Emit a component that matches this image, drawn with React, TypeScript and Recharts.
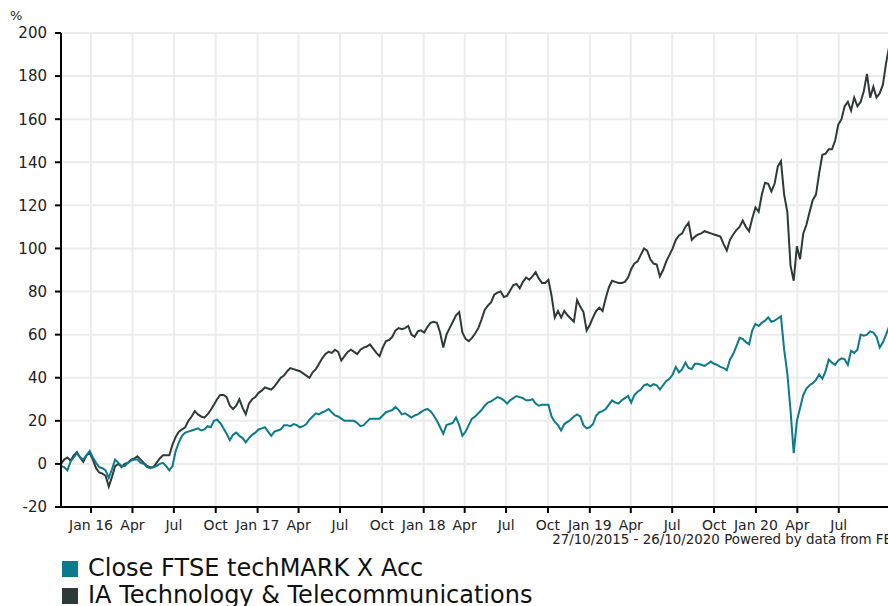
import React from 'react';
import { LineChart, Line, XAxis, YAxis, CartesianGrid } from 'recharts';

const FONT = '"DejaVu Sans", Verdana, sans-serif';
const TEAL = '#0b7a8a';
const DARK = '#2d3a37';

// weekly points starting 27/10/2015
const START = Date.UTC(2015, 9, 27);
const END = Date.UTC(2020, 9, 26);
const WEEK_MS = 7 * 86400000;

const SERIES_NAMES = ['Close FTSE techMARK X Acc', 'IA Technology & Telecommunications'];

const IA_TECH = [
    0, 2, 3, 1.5, 4, 5.5, 3, 1, 4, 5,
    2, -2, -4, -4.5, -5.5, -10.5, -6, -1, 0, -1.5,
    0, 0.5, 2, 2.5, 3.5, 2, 0.5, -1, -1.5, -1.5,
    0.5, 2.5, 4, 4, 4, 9, 12.5, 15, 16, 17,
    20, 22, 24.5, 23, 22, 21.5, 23, 25, 27.5, 30,
    32, 32, 31, 27, 25.5, 27, 30, 26, 23, 28,
    30, 31, 33, 34, 35.5, 35, 34.5, 36, 38, 40,
    41, 43, 44.5, 44, 43.5, 43, 42, 41, 40, 42.5,
    44, 46.5, 49, 51, 52, 51.5, 53, 52, 48, 50,
    52, 53, 52, 51, 53, 54, 54.5, 55.5, 53.5, 51.5,
    50, 54, 57, 57.5, 59, 62, 63, 62.5, 63, 64,
    60, 59, 61.5, 62, 61, 63.5, 65.5, 66, 65.5, 61,
    54, 60, 63, 66, 69, 70.5, 61, 58, 57, 58.5,
    60.5, 63, 67, 71.5, 73.5, 75, 78.5, 79.5, 80, 77.5,
    78, 80.5, 83, 83.5, 81.5, 84.5, 86.5, 85.5, 87, 89,
    86, 84, 84, 85.5, 78, 68, 71, 68, 71, 69,
    67.5, 66, 76, 73, 70.5, 62, 64.5, 68, 71, 72.5,
    71, 77, 82, 85, 84.5, 84, 84, 84.5, 86.5, 90.5,
    93, 94, 97, 100, 99, 95, 93, 92.5, 87, 90,
    94, 97, 100, 104, 106, 107, 110, 112, 104, 105.5,
    106.5, 107, 108, 107.5, 107, 106.5, 106, 105.5, 102, 99,
    104, 106.5, 108.5, 110, 113, 110, 108, 114, 119, 117,
    125, 130.5, 130, 126.5, 130, 138, 140.5, 125, 117, 92,
    85, 101, 95, 107, 111, 117, 122.5, 125, 135, 143.5,
    144, 146, 146, 150, 157.5, 160, 166, 168, 164, 170,
    166, 168, 173, 181, 170, 175, 170, 172, 176, 186, 194,
];

const FTSE_TECHMARK = [
    -1, -1.5, -3, 1, 3, 5, 3, 2, 4, 6,
    3, 0.5, -1.5, -2, -3, -6.5, -2.5, 2, 0.5, -1,
    -1, 0.5, 1.5, 2, 2, 0.5, 0, -1.5, -2, -1.5,
    -1, 0, 0.5, -1, -3, -1, 6, 10, 13, 14.5,
    15, 15.5, 16, 16.5, 15.5, 16, 17.5, 17, 20, 20.5,
    19, 16.5, 14, 11, 13.5, 14.5, 13, 12, 10, 12,
    13.5, 14.5, 16, 16.5, 17, 15, 13, 15, 15.5, 16,
    18, 18, 17.5, 18.5, 18, 17, 17.5, 18.5, 20.5, 22,
    23.5, 23, 24, 24.5, 25.5, 24, 22.5, 22, 21, 20,
    20, 20, 20, 19, 17.5, 18, 19.5, 21, 21, 21,
    21, 22.5, 24, 24.5, 25, 26.5, 25, 23, 23.5, 22.5,
    21.5, 22.5, 23, 24, 25, 25.5, 24.5, 22.5, 20, 17,
    14, 18, 18.5, 19, 21.5, 18, 13, 15, 18, 21,
    22, 23.5, 25, 27, 28.5, 29, 30, 31, 30.5, 29.5,
    28, 29.5, 30.5, 31.5, 31, 30.5, 29.5, 29.5, 30, 28,
    27, 27.5, 27.5, 27.5, 22, 19.5, 18, 15.5, 18.5, 19.5,
    20.5, 22, 23, 22, 18, 16.5, 17, 18.5, 22.5, 24,
    24.5, 25.5, 27.5, 29.5, 28.5, 28, 29.5, 30.5, 31.5, 28.5,
    32, 33.5, 34.5, 36.5, 37, 36, 37, 36.5, 34.5, 36.5,
    38.5, 39.5, 41.5, 45, 42.5, 44, 47, 44.5, 44, 46.5,
    46.5, 46, 45.5, 46.5, 47.5, 46.5, 46, 45, 44.5, 43.5,
    48.5, 51, 54.5, 58.5, 58, 56.5, 55.5, 62, 65, 64,
    65.5, 66.5, 68, 66, 66.5, 67.5, 68.5, 53, 42, 25,
    5, 20, 26, 32, 35, 36.5, 37.5, 39, 41.5, 39.5,
    43, 48.5, 47, 46, 48, 49, 48.5, 46, 52.5, 51.5,
    53, 60, 59.5, 60, 61.5, 61, 59, 54, 56.5, 60, 64,
];

const TICK_DATES = [
    '2016-01-01', '2016-04-01', '2016-07-01', '2016-10-01',
    '2017-01-01', '2017-04-01', '2017-07-01', '2017-10-01',
    '2018-01-01', '2018-04-01', '2018-07-01', '2018-10-01',
    '2019-01-01', '2019-04-01', '2019-07-01', '2019-10-01',
    '2020-01-01', '2020-04-01', '2020-07-01',
];
const TICK_LABELS = [
    'Jan 16', 'Apr', 'Jul', 'Oct',
    'Jan 17', 'Apr', 'Jul', 'Oct',
    'Jan 18', 'Apr', 'Jul', 'Oct',
    'Jan 19', 'Apr', 'Jul', 'Oct',
    'Jan 20', 'Apr', 'Jul',
];
const X_TICKS = TICK_DATES.map((d) => Date.parse(d));
const Y_TICKS = [-20, 0, 20, 40, 60, 80, 100, 120, 140, 160, 180, 200];

const data = IA_TECH.map((v, i) => ({ t: START + i * WEEK_MS, ia: v, ftse: FTSE_TECHMARK[i] }));

export default function App() {
    return (
        <div style={{ position: 'absolute', left: 0, top: 0, width: 888, height: 606, overflow: 'hidden', background: '#fff', fontFamily: FONT }}>
            <div style={{ position: 'absolute', left: 10, top: 8, fontSize: 13, color: '#222' }}>%</div>
            <LineChart width={900} height={547} data={data} margin={{ top: 33, right: 8, left: 0, bottom: 0 }}>
                <CartesianGrid stroke="#ececec" strokeWidth={2} />
                <XAxis dataKey="t" type="number" domain={[START, END]} ticks={X_TICKS} interval={0}
                    tickFormatter={(v: number) => TICK_LABELS[X_TICKS.indexOf(v)] ?? ''}
                    tick={{ fill: '#222', fontSize: 14, fontFamily: FONT }}
                    axisLine={{ stroke: '#000', strokeWidth: 2 }} tickLine={{ stroke: '#000', strokeWidth: 2 }}
                    tickSize={6} tickMargin={7} height={40} />
                <YAxis type="number" domain={[-20, 200]} ticks={Y_TICKS} interval={0} width={61}
                    tick={{ fill: '#222', fontSize: 15, fontFamily: FONT }}
                    axisLine={{ stroke: '#000', strokeWidth: 2 }} tickLine={{ stroke: '#000', strokeWidth: 2 }}
                    tickSize={6} tickMargin={8} />
                <Line dataKey="ia" stroke={DARK} strokeWidth={2} dot={false} isAnimationActive={false} />
                <Line dataKey="ftse" stroke={TEAL} strokeWidth={2} dot={false} isAnimationActive={false} />
            </LineChart>
            <div style={{ position: 'absolute', right: -4, top: 532, fontSize: 13.4, color: '#222', whiteSpace: 'nowrap' }}>
                27/10/2015 - 26/10/2020 Powered by data from FE
            </div>
            {SERIES_NAMES.map((name, i) => (
                <div key={name} style={{ position: 'absolute', left: 62, top: 555 + i * 27, display: 'flex', alignItems: 'center', lineHeight: '27px', fontSize: 24, color: '#111', whiteSpace: 'nowrap' }}>
                    <span style={{ display: 'inline-block', width: 16, height: 16, background: i === 0 ? TEAL : DARK, marginRight: 10 }} />
                    {name}
                </div>
            ))}
        </div>
    );
}
